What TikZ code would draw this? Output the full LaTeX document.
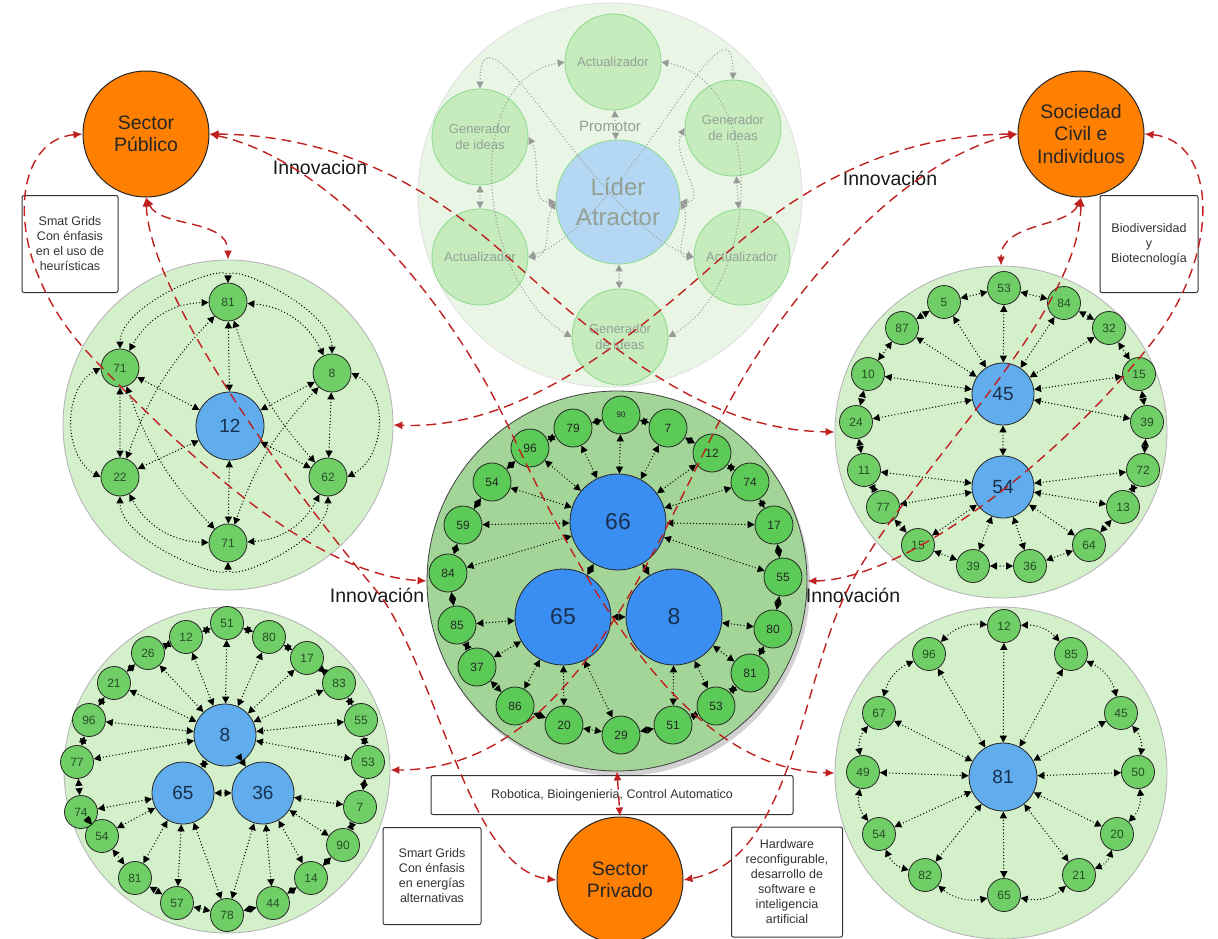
\documentclass[tikz,border=0pt]{standalone}
\usepackage{fontspec}
\setmainfont{Liberation Sans}
\setsansfont{Liberation Sans}
\usepackage{xcolor}
\usepackage{tikz}
\usetikzlibrary{arrows.meta, positioning, shadows}

\definecolor{secorange}{RGB}{255,127,0}
\definecolor{grpgreen}{RGB}{211,240,203}
\definecolor{coregreen}{RGB}{162,213,151}
\definecolor{ringgreen}{RGB}{112,206,102}
\definecolor{ringbright}{RGB}{92,202,86}
\definecolor{numgreen}{RGB}{38,78,38}
\definecolor{hubblue}{RGB}{96,172,236}
\definecolor{hubdeep}{RGB}{58,142,242}
\definecolor{hubtext}{RGB}{24,48,78}
\definecolor{linkred}{RGB}{192,32,32}
\definecolor{fadegreen}{RGB}{233,246,229}
\definecolor{fadenode}{RGB}{198,236,190}
\definecolor{fadeblue}{RGB}{180,216,243}
\definecolor{fadetext}{RGB}{148,160,148}

\begin{document}
\begin{tikzpicture}[
    x=1pt, y=-1pt,
    group/.style={circle, draw=gray!60, line width=0.8pt, fill=grpgreen, inner sep=0pt},
    ring/.style={circle, draw=black!85, line width=0.8pt, fill=ringgreen, minimum size=33pt,
                 inner sep=0pt, text=numgreen, font=\fontsize{12}{14}\selectfont},
    hub/.style={circle, draw=black!85, line width=0.8pt, fill=hubblue, inner sep=0pt,
                minimum size=62pt, text=hubtext, font=\fontsize{19}{22}\selectfont},
    core/.style={hub, fill=hubdeep, minimum size=96pt, font=\fontsize{23}{26}\selectfont},
    sector/.style={circle, draw=black!85, line width=1pt, fill=secorange, minimum size=126pt,
                   inner sep=0pt, align=center, text=black!85, font=\fontsize{19.5}{22.5}\selectfont},
    note/.style={draw=black!80, line width=1pt, rounded corners=2pt, fill=white, inner sep=0pt,
                 align=center, text=black!80, font=\fontsize{12.5}{15}\selectfont},
    fade/.style={circle, draw=gray!50!green!60, line width=0.8pt, fill=fadenode, minimum size=96pt,
                 inner sep=0pt, align=center, text=fadetext, font=\fontsize{13}{16}\selectfont},
    innov/.style={font=\fontsize{19.5}{22}\selectfont, text=black!90},
    tinynum/.style={font=\fontsize{8}{9}\selectfont},
    rel/.style={black, line width=1.4pt, line cap=round, dash pattern=on 0pt off 3.2pt,
                {Triangle[length=7pt,width=7pt]}-{Triangle[length=7pt,width=7pt]}},
    relfade/.style={rel, gray!80},
    link/.style={linkred, line width=1.4pt, dash pattern=on 10pt off 6pt,
                 {Latex[length=9pt,width=8pt]}-{Latex[length=9pt,width=8pt]}},
  ]
  \useasboundingbox (0,0) rectangle (1218,938);
  \fill[white] (0,0) rectangle (1218,938);

  % top group (faded)
  \node[group, fill=fadegreen, draw=gray!25, minimum size=384pt] (tc) at (610,195) {};
  \node[fade, fill=fadeblue, minimum size=124pt, font=\fontsize{24}{30}\selectfont] (lider) at (618,202) {Líder\\Atractor};
  \node[fade] (act1) at (613,62) {Actualizador};
  \node[fade] (gen1) at (480,137) {Generador\\de ideas};
  \node[fade] (gen2) at (733,128) {Generador\\de ideas};
  \node[fade] (act2) at (480,257) {Actualizador};
  \node[fade] (act3) at (742,257) {Actualizador};
  \node[fade] (gen3) at (620,337) {Generador\\de ideas};
  \node[text=fadetext, font=\fontsize{15}{18}\selectfont] (promo) at (610,126) {Promotor};
  \draw[relfade] (lider) -- (act1);
  \draw[relfade] (lider) -- (gen3);
  \draw[relfade] (gen1) -- (act2);
  \draw[relfade] (gen2) -- (act3);
  \draw[relfade] (gen1.east) to[out=-60, in=180] (lider.west);
  \draw[relfade] (act2.east) to[out=0, in=-120] (lider.west);
  \draw[relfade] (gen2.west) to[out=-120, in=0] (lider.east);
  \draw[relfade] (act3.west) to[out=180, in=-60] (lider.east);
  \draw[relfade] (gen1.north) to[out=90, in=160] (act3.west);
  \draw[relfade] (gen2.north) to[out=90, in=20] (act2.east);
  \draw[relfade] (act1.west) to[out=190, in=150] (gen3.west);
  \draw[relfade] (act1.east) to[out=-10, in=30] (gen3.east);

  % left group
  \node[group, minimum size=330pt] (lc) at (228,425) {};
  \node[hub, minimum size=68pt] (lch) at (230,426) {12};
  \foreach \n/\x/\y/\v in {1/228/302/81, 2/332/373/8, 3/328/477/62, 4/228/543/71, 5/120/477/22, 6/120/368/71} {
    \node[ring, minimum size=38pt] (lc\n) at (\x,\y) {\v};
    \draw[rel] (lc\n) -- (lch);
  }
  \draw[rel] (lc6) -- (lc5);
  \draw[rel] (lc2) -- (lc3);
  \foreach \a/\b in {1/2, 3/4, 4/5, 6/1} {
    \draw[rel] (lc\a) to[bend left=30] (lc\b);
  }
  \foreach \a/\b in {1/5, 6/4, 1/3, 2/4} {
    \draw[rel] (lc\a) to[bend right=12] (lc\b);
  }
  \draw[rel] (lc6.west) .. controls +(-38,20) and +(-38,-20) .. (lc5.west);
  \draw[rel] (lc2.east) .. controls +(38,20) and +(38,-20) .. (lc3.east);
  \draw[rel] (lc1.north) .. controls +(0,-22) and +(0,-45) .. (lc6.north);
  \draw[rel] (lc1.north) .. controls +(0,-22) and +(0,-45) .. (lc2.north);
  \draw[rel] (lc4.south) .. controls +(0,22) and +(0,45) .. (lc5.south);
  \draw[rel] (lc4.south) .. controls +(0,22) and +(0,45) .. (lc3.south);

  % right group
  \node[group, minimum size=332pt] (rtc) at (1001,432) {};
  \node[hub] (rtca) at (1003,394) {45};
  \node[hub] (rtcb) at (1003,487) {54};
  \draw[rel] (rtca) -- (rtcb);
  \foreach \n/\x/\y/\v/\h in {1/1004/288/53/a, 2/1064/303/84/a, 3/1109/328/32/a, 4/1139/374/15/a,
      5/1147/422/39/a, 6/1143/470/72/b, 7/1123/507/13/b, 8/1089/545/64/b, 9/1030/566/36/b,
      10/973/566/39/b, 11/918/545/15/b, 12/883/507/77/b, 13/864/470/11/b, 14/856/422/24/a,
      15/868/374/10/a, 16/902/328/87/a, 17/944/302/5/a} {
    \node[ring] (rtc\n) at (\x,\y) {\v};
    \draw[rel] (rtc\n) -- (rtc\h);
  }
  \foreach \n [remember=\n as \p (initially 17)] in {1,...,17} {
    \draw[rel] (rtc\p) -- (rtc\n);
  }

  % central group
  \node[group, fill=coregreen, draw=black!75, minimum size=380pt,
        drop shadow={shadow xshift=3pt, shadow yshift=-5pt, opacity=0.35}] (cc) at (617,581) {};
  \node[core] (cca) at (618,522) {66};
  \node[core] (ccb) at (563,617) {65};
  \node[core] (ccc) at (674,617) {8};
  \draw[rel] (cca) -- (ccb);
  \draw[rel] (cca) -- (ccc);
  \draw[rel] (ccb) -- (ccc);
  \foreach \n/\x/\y/\v/\h/\s in {1/621/415/90/a/tinynum, 2/668/428/7/a/, 3/712/453/12/a/, 4/750/482/74/a/,
      5/774/525/17/a/, 6/783/577/55/a/, 7/773/629/80/c/, 8/750/673/81/c/, 9/716/706/53/c/,
      10/673/725/51/c/, 11/621/735/29/b/, 12/564/725/20/b/, 13/515/706/86/b/, 14/477/667/37/b/,
      15/457/625/85/b/, 16/448/573/84/a/, 17/463/525/59/a/, 18/492/482/54/a/, 19/530/448/96/a/,
      20/573/428/79/a/} {
    \node[ring, fill=ringbright, text=black!85, minimum size=38pt, \s] (cc\n) at (\x,\y) {\v};
    \draw[rel] (cc\n) -- (cc\h);
  }
  \foreach \n [remember=\n as \p (initially 20)] in {1,...,20} {
    \draw[rel] (cc\p) -- (cc\n);
  }

  % lower left group
  \node[group, minimum size=326pt] (blc) at (227,770) {};
  \node[hub] (blca) at (225,735) {8};
  \node[hub] (blcb) at (183,793) {65};
  \node[hub] (blcc) at (263,793) {36};
  \draw[rel] (blca) -- (blcb);
  \draw[rel] (blca) -- (blcc);
  \draw[rel] (blcb) -- (blcc);
  \foreach \n/\x/\y/\v/\h in {1/227/623/51/a, 2/269/637/80/a, 3/307/658/17/a, 4/339/683/83/a,
      5/361/720/55/a, 6/368/762/53/a, 7/360/807/7/c, 8/343/845/90/c, 9/311/878/14/c,
      10/273/903/44/c, 11/227/915/78/b, 12/177/903/57/b, 13/135/878/81/b, 14/102/836/54/b,
      15/81/812/74/b, 16/77/762/77/a, 17/89/720/96/a, 18/114/683/21/a, 19/148/653/26/a,
      20/186/637/12/a} {
    \node[ring] (blc\n) at (\x,\y) {\v};
    \draw[rel] (blc\n) -- (blc\h);
  }
  \draw[rel] (blc11) -- (blcc);
  \foreach \n [remember=\n as \p (initially 20)] in {1,...,20} {
    \draw[rel] (blc\p) -- (blc\n);
  }

  % lower right group
  \node[group, minimum size=332pt] (brc) at (1001,773) {};
  \node[hub, minimum size=68pt] (brch) at (1003,777) {81};
  \foreach \n/\x/\y/\v in {1/1004/626/12, 2/1071/654/85, 3/1121/713/45, 4/1138/772/50, 5/1117/834/20,
      6/1079/875/21, 7/1004/895/65, 8/925/875/82, 9/879/834/54, 10/863/772/49, 11/879/713/67,
      12/929/654/96} {
    \node[ring] (brc\n) at (\x,\y) {\v};
    \draw[rel] (brc\n) -- (brch);
  }
  \foreach \n [remember=\n as \p (initially 12)] in {1,...,12} {
    \draw[rel] (brc\p) to[bend left=25] (brc\n);
  }

  % sectors and notes
  \node[sector] (pub) at (146,134) {Sector\\Público};
  \node[sector] (soc) at (1081,134) {Sociedad\\Civil e\\Individuos};
  \node[sector] (priv) at (620,880) {Sector\\Privado};
  \node[note, minimum width=96pt, minimum height=97pt] (heur) at (70,244) {Smat Grids\\Con énfasis\\en el uso de\\heurísticas};
  \node[note, minimum width=98pt, minimum height=97pt] (bio) at (1149,244) {Biodiversidad\\y\\Biotecnología};
  \node[note, minimum width=362pt, minimum height=39pt] (robo) at (612,795) {Robotica, Bioingenieria, Control Automatico};
  \node[note, minimum width=98pt, minimum height=97pt] (energ) at (432,876) {Smart Grids\\Con énfasis\\en energías\\alternativas};
  \node[note, minimum width=111pt, minimum height=110pt] (hard) at (787,882) {Hardware\\reconfigurable,\\desarrollo de\\software e\\inteligencia\\artificial};
  \node[innov] (inv1) at (320,168) {Innovacion};
  \node[innov] (inv2) at (890,178) {Innovación};
  \node[innov] (inv3) at (377,595) {Innovación};
  \node[innov] (inv4) at (853,595) {Innovación};

  % links between sectors and groups
  \draw[link] (pub.south) .. controls (160,228) and (228,218) .. (lc.north);
  \draw[link] (soc.south) .. controls (1068,228) and (1001,222) .. (rtc.north);
  \draw[link] (cc.south) -- (priv.north);
  \draw[link] (pub.west) .. controls (10,140) and (0,260) .. (90,355) .. controls (200,470) and (320,575) .. (cc.west);
  \draw[link] (soc.east) .. controls (1215,140) and (1225,250) .. (1150,345) .. controls (1050,470) and (900,580) .. (cc.east);
  \draw[link] (pub.south) .. controls (150,300) and (300,500) .. (380,595) .. controls (440,680) and (470,870) .. (priv.west);
  \draw[link] (soc.south) .. controls (1080,320) and (900,480) .. (845,595) .. controls (800,690) and (790,860) .. (priv.east);
  \draw[link] (pub.east) .. controls (330,135) and (420,180) .. (500,250) .. controls (600,340) and (700,430) .. (rtc.west);
  \draw[link] (soc.west) .. controls (900,135) and (810,180) .. (730,250) .. controls (630,340) and (520,430) .. (lc.east);
  \draw[link] (pub.east) .. controls (330,160) and (450,300) .. (510,430) .. controls (590,600) and (690,770) .. (brc.west);
  \draw[link] (soc.west) .. controls (900,160) and (780,300) .. (720,420) .. controls (640,580) and (560,770) .. (blc.east);
\end{tikzpicture}
\end{document}
